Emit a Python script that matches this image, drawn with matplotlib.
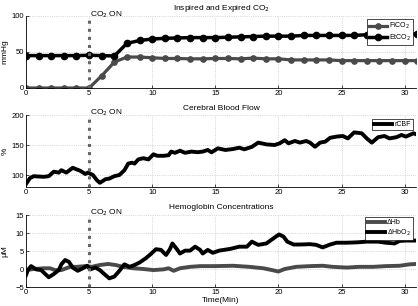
import numpy as np
import matplotlib
matplotlib.use('Agg')
import matplotlib.pyplot as plt

plt.rcParams['font.family'] = ['Liberation Sans', 'DejaVu Sans']

# Inspired / expired CO2 (mmHg), one sample per minute
co2_t = np.arange(0, 32)
fico2 = [0, 0, 0, 0, 0, 0, 17, 36, 43, 43, 42, 41, 41, 40.5, 40.5, 41,
         41, 40.5, 41.5, 40.5, 40.5, 39, 39, 39, 39, 38, 38, 38, 38, 38, 38, 38]
etco2 = [45, 45, 45, 45, 45, 45.5, 45, 44.5, 62, 66, 68, 69, 69.5, 70, 70, 70,
         70.5, 71, 71.5, 72, 72, 72, 73, 73, 73, 73, 73, 74, 74, 74, 75, 75]

# Cerebral blood flow (%)
cbf_t = [0, 0.3, 0.6, 1.4, 1.8, 2.2, 2.6, 2.8, 3.2, 3.7, 4.3, 4.7, 4.9, 5.3,
         5.6, 5.85, 6.3, 6.6, 7.0, 7.4, 7.8, 8.1, 8.4, 8.6, 8.9, 9.3, 9.7,
         10.1, 10.4, 10.9, 11.3, 11.5, 11.8, 12.2, 12.6, 13.1, 13.6, 14.0,
         14.4, 14.7, 15.2, 15.8, 16.4, 16.9, 17.3, 17.9, 18.4, 19.05, 19.7,
         20.1, 20.5, 20.8, 21.3, 21.7, 22.2, 22.5, 22.9, 23.3, 23.7, 24.1,
         24.6, 25.1, 25.5, 26.0, 26.6, 27.0, 27.4, 27.9, 28.4, 28.8, 29.35,
         29.75, 30.1, 30.7, 30.9]
rcbf = [85, 94.5, 98, 97, 98, 105.5, 104, 108, 104, 112, 107, 101.7, 104, 100,
        91.7, 87, 93, 94, 98, 100, 108, 119, 120.5, 119, 126, 128, 126,
        134.5, 132, 132, 133, 139, 137, 140.5, 137, 139, 138, 139,
        141.7, 137.8, 144.4, 141.7, 143.3, 145.5, 142.8, 147, 154, 151, 150,
        152.8, 158, 152.8, 156.7, 154, 156.7, 154, 147, 154, 155.5, 162,
        164, 165, 161, 171, 169.5, 161, 154, 163, 165, 161, 163,
        166.7, 164, 169.5, 168]

# Hemoglobin concentrations (uM)
hbo2_t = [0, 0.15, 0.4, 0.8, 1.2, 1.8, 2.2, 2.6, 2.8, 3.1, 3.4, 3.7, 4.1, 4.5,
          4.85, 5.1, 5.5, 5.85, 6.3, 6.6, 7.0, 7.4, 7.8, 8.2, 8.6, 9.0, 9.5,
          9.9, 10.3, 10.7, 11.1, 11.4, 11.6, 12.0, 12.2, 12.6, 13.0, 13.4,
          13.8, 14.0, 14.4, 14.8, 15.3, 16.2, 16.9, 17.5, 17.9, 18.4, 19.05,
          19.6, 20.05, 20.4, 20.7, 21.2, 21.7, 22.5, 23.0, 23.5, 24.1, 24.6,
          25.4, 26.2, 27.0, 27.9, 28.5, 29.2, 29.6, 30.1, 30.8]
dhbo2 = [-1.7, -0.3, 0.8, -0.1, -0.3, -2.3, -1.4, -0.3, 1.3, 2.5, 2.0, 0.4,
         -0.5, 0.2, 0.9, -0.1, 0.4, -0.3, -1.7, -2.6, -2.1, -0.5, 1.3, 0.6,
         1.1, 1.8, 3.0, 4.2, 5.5, 5.3, 3.9, 5.5, 7.1, 5.3, 4.3, 5.1, 5.1, 6.2,
         5.3, 4.3, 5.3, 4.5, 5.1, 5.6, 6.2, 6.2, 7.6, 6.7, 7.1, 8.5, 9.6, 9.0,
         7.6, 6.8, 6.8, 6.9, 6.7, 6.0, 6.8, 7.3, 7.3, 7.4, 7.6, 7.6, 7.3, 7.1,
         7.8, 7.9, 7.9]
hb_t = [0, 0.6, 1.4, 1.9, 2.3, 2.8, 3.5, 4.0, 4.7, 5.2, 5.85, 6.5, 7.1, 7.7,
        8.5, 9.3, 10.1, 10.9, 11.3, 11.7, 12.2, 13.0, 13.8, 15.0, 16.4, 17.7,
        18.8, 19.5, 20.0, 20.5, 21.4, 22.5, 23.5, 24.3, 25.4, 26.4, 27.5,
        28.5, 29.6, 30.4, 30.9]
dhb = [-0.3, 0, 0.2, 0.2, -0.3, -0.3, 0.6, 0.6, 0.8, 0.6, 1.1, 1.4, 1.1, 0.6,
       0.2, 0, -0.3, -0.1, 0.2, -0.5, 0.2, 0.6, 0.8, 0.8, 0.9, 0.6,
       0.2, -0.3, -0.7, 0, 0.6, 0.8, 0.9, 0.6, 0.4, 0.6, 0.6,
       0.8, 0.9, 1.3, 1.4]

co2_on = 5
gray = '#4a4a4a'

fig = plt.figure(figsize=(4.18, 3.06), dpi=100)
W, H = 418.0, 306.0
left, right = 26, 416
rows = [(16, 88), (115, 187), (215, 287)]
axes = [fig.add_axes([left / W, 1 - b / H, (right - left) / W, (b - t) / H])
        for t, b in rows]

ax1, ax2, ax3 = axes
ax1.plot(co2_t, fico2, color=gray, lw=2.3, marker='o', ms=3.8, label='FiCO$_2$')
ax1.plot(co2_t, etco2, color='black', lw=2.5, marker='o', ms=4.5, label='EtCO$_2$')
ax1.set_ylim(0, 100)
ax1.set_yticks([0, 50, 100])
ax1.set_ylabel('mmHg')
ax1.set_title('Inspired and Expired CO$_2$', fontsize=6, pad=4.5)

ax2.plot(cbf_t, rcbf, color='black', lw=2.8, label='rCBF')
ax2.set_ylim(80, 200)
ax2.set_yticks([100, 150, 200])
ax2.set_ylabel('%')
ax2.set_title('Cerebral Blood Flow', fontsize=6, pad=3.8)

ax3.plot(hb_t, dhb, color=gray, lw=2.8, label='\u0394Hb')
ax3.plot(hbo2_t, dhbo2, color='black', lw=2.8, label='\u0394HbO$_2$')
ax3.set_ylim(-5, 15)
ax3.set_yticks([-5, 0, 5, 10, 15])
ax3.set_ylabel('\u03bcM')
ax3.set_title('Hemoglobin Concentrations', fontsize=6, pad=4.5)
ax3.set_xlabel('Time(Min)', fontsize=6, labelpad=1)

legend_tops = [0.958, 0.944, 0.972]
for ax, ltop in zip(axes, legend_tops):
    ax.set_xlim(0, 30.9)
    ax.set_xticks(range(0, 31, 5))
    ax.axvline(co2_on, color='#666666', ls=':', lw=2.2, zorder=3)
    ax.text(co2_on + 0.08, ax.get_ylim()[1], 'CO$_2$ ON', fontsize=6,
            va='baseline', ha='left')
    ax.grid(True, ls=':', lw=0.5, color='#bbbbbb')
    ax.set_axisbelow(True)
    for side in ['top', 'right']:
        ax.spines[side].set_visible(False)
    for side in ['left', 'bottom']:
        ax.spines[side].set_linewidth(0.6)
    ax.tick_params(direction='in', length=2.5, width=0.5, labelsize=5.5, pad=1.5)
    ax.yaxis.label.set_size(6)
    ax.yaxis.set_label_coords(-0.044, 0.5)
    leg = ax.legend(loc='upper right', bbox_to_anchor=(0.992, ltop), fontsize=5,
                    handlelength=2.6, handletextpad=0.3, borderpad=0.3,
                    labelspacing=0.2, borderaxespad=0, fancybox=False,
                    framealpha=1)
    leg.get_frame().set_edgecolor('black')
    leg.get_frame().set_linewidth(0.5)

fig.savefig('out.png', dpi=100)
